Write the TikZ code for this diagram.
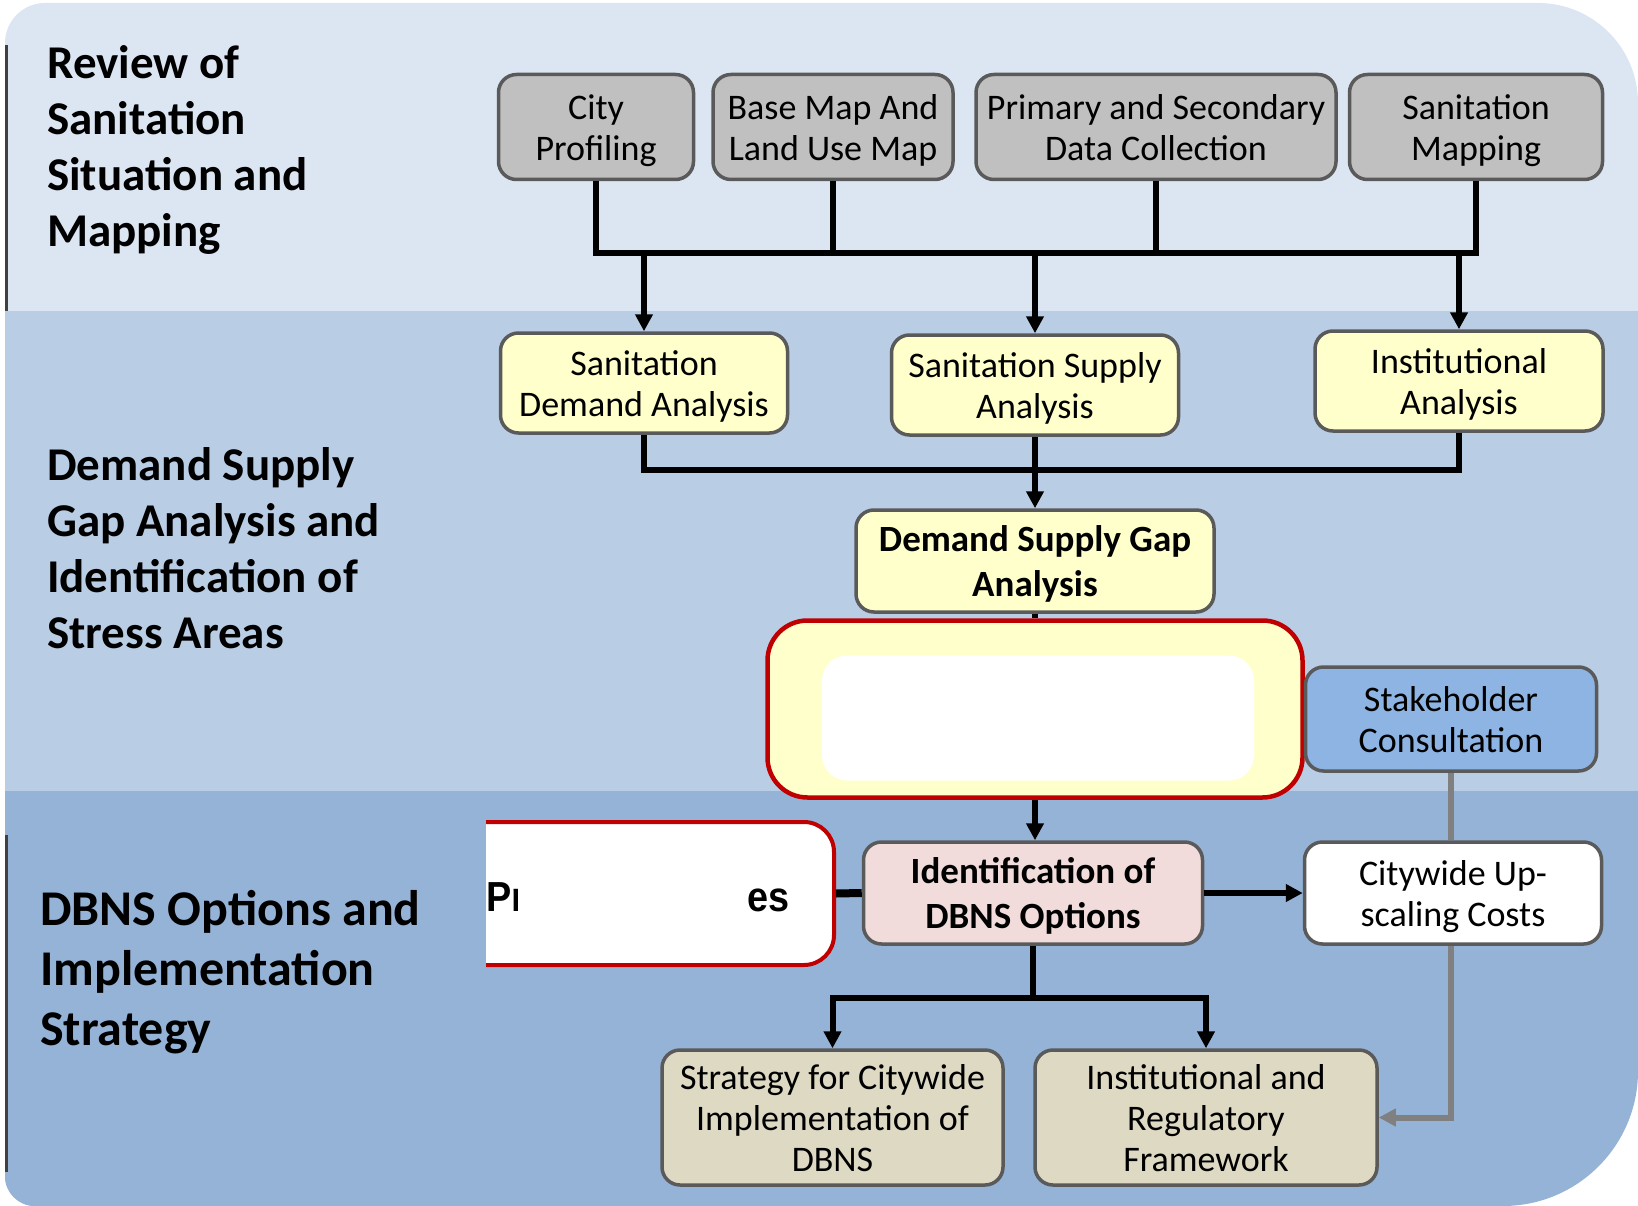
\documentclass[tikz,border=0pt]{standalone}
\usepackage{fontspec}
\setmainfont{Carlito}
\newfontfamily\arialf{Liberation Sans}
\usetikzlibrary{arrows.meta}
\newcommand{\bxtop}{\rule{0pt}{34pt}}
\definecolor{bandA}{HTML}{DCE6F2}
\definecolor{bandB}{HTML}{B9CDE5}
\definecolor{bandC}{HTML}{95B3D7}
\definecolor{grayfill}{HTML}{C0C0C0}
\definecolor{yelfill}{HTML}{FFFFCC}
\definecolor{boxedge}{HTML}{5A5A5A}
\definecolor{rededge}{HTML}{C00000}
\definecolor{stakefill}{HTML}{8DB4E2}
\definecolor{pinkfill}{HTML}{F2DCDB}
\definecolor{tanfill}{HTML}{DDD9C3}
\definecolor{grayline}{HTML}{808080}
\definecolor{darkedge}{HTML}{404040}
\begin{document}
\begin{tikzpicture}[x=1pt,y=-1pt,
  box/.style={draw=boxedge, line width=3.5pt, rounded corners=18pt, align=center,
    inner sep=0pt, font=\fontsize{36}{41}\selectfont, text depth=8pt},
  boldbox/.style={box, font=\bfseries\fontsize{37}{45}\selectfont},
  lab/.style={align=left, inner sep=0pt, anchor=west, font=\bfseries\fontsize{47}{56}\selectfont},
  conn/.style={line width=6pt, draw=black},
  arr/.style={conn, -{Triangle[length=17pt,width=17pt]}},
  gconn/.style={line width=6pt, draw=grayline},
  garr/.style={gconn, -{Triangle[length=17pt,width=17pt]}},
  prtext/.style={inner sep=0pt, anchor=base west, font=\arialf\bfseries\fontsize{42}{50}\selectfont}
]
\useasboundingbox (0,0) rectangle (1638,1206);
% background bands
\begin{scope}
  \clip (800,3) [rounded corners=100pt] -| (1638,600) [rounded corners=135pt] |- (800,1206)
        [rounded corners=30pt] -| (5,600) [rounded corners=40pt] |- (800,3);
  \fill[bandA] (0,0) rectangle (1638,311);
  \fill[bandB] (0,311) rectangle (1638,791);
  \fill[bandC] (0,791) rectangle (1638,1206);
  \node[draw=rededge, line width=4pt, fill=white, rounded corners=30pt,
        minimum width=394pt, minimum height=143pt, inner sep=0pt] (prbox) at (637,893.5) {};
  \fill[bandC] (0,791) rectangle (486,1206);
\end{scope}
\draw[line width=3pt, darkedge] (6,45) -- (6,311);
\draw[line width=3pt, darkedge] (6,835) -- (6,1172);
% left labels
\node[lab] (labA) at (47,150) {Review of\\Sanitation\\Situation and\\Mapping};
\node[lab] (labB) at (47,548) {Demand Supply\\Gap Analysis and\\Identification of\\Stress Areas};
\node[lab, font=\bfseries\fontsize{50}{60}\selectfont] (labC) at (40,972) {DBNS Options and\\Implementation\\Strategy};
% Pr ... es texts
\begin{scope}
  \clip (486,820) rectangle (517,965);
  \node[prtext] (prA) at (486,911) {\scalebox{0.9}[1]{Pr}};
\end{scope}
\node[prtext] (prB) at (747,911) {\scalebox{0.9}[1]{es}};
% top boxes
\node[box, fill=grayfill, minimum width=195pt, minimum height=105pt] (city) at (596,127) {\bxtop City\\Profiling};
\node[box, fill=grayfill, minimum width=240pt, minimum height=105pt] (bmap) at (833,127) {\bxtop Base Map And\\Land Use Map};
\node[box, fill=grayfill, minimum width=360pt, minimum height=105pt] (psd) at (1156,127) {\bxtop Primary and Secondary\\Data Collection};
\node[box, fill=grayfill, minimum width=253pt, minimum height=105pt] (smap) at (1476,127) {\bxtop Sanitation\\Mapping};
% yellow boxes
\node[box, fill=yelfill, minimum width=287pt, minimum height=100pt] (demand) at (644,383) {\bxtop Sanitation\\Demand Analysis};
\node[box, fill=yelfill, minimum width=287pt, minimum height=100pt] (supply) at (1035,385) {\bxtop Sanitation Supply\\Analysis};
\node[box, fill=yelfill, minimum width=288pt, minimum height=100pt] (inst) at (1459,381) {\bxtop Institutional\\Analysis};
\node[boldbox, fill=yelfill, minimum width=358pt, minimum height=102pt] (gap) at (1035,561) {\bxtop Demand Supply Gap\\Analysis};
% red box
\node[draw=rededge, line width=4.5pt, fill=yelfill, rounded corners=40pt,
      minimum width=535pt, minimum height=177pt, inner sep=0pt] (redbox) at (1035,709) {};
\node[fill=white, rounded corners=25pt, minimum width=432pt, minimum height=125pt, inner sep=0pt] (redinner) at (1038,718) {};
\node[box, fill=stakefill, minimum width=291pt, minimum height=104pt] (stake) at (1451,719) {\bxtop Stakeholder\\Consultation};
% bottom band
\node[boldbox, fill=pinkfill, minimum width=339pt, minimum height=102pt] (ident) at (1033,893) {\bxtop Identification of\\DBNS Options};
\node[box, fill=white, minimum width=297pt, minimum height=102pt] (cost) at (1453,893) {\bxtop Citywide Up-\\scaling Costs};
\node[box, fill=tanfill, minimum width=341pt, minimum height=135pt] (strat) at (832.5,1117.5) {\bxtop Strategy for Citywide\\Implementation of\\DBNS};
\node[box, fill=tanfill, minimum width=342pt, minimum height=135pt] (irf) at (1206,1117.5) {\bxtop Institutional and\\Regulatory\\Framework};
% connectors top
\coordinate (bus) at (0,253);
\coordinate (midbus) at (0,470);
\coordinate (lowbus) at (0,998);
\draw[conn] (city.south) |- (smap.south |- bus) -- (smap.south);
\draw[conn] (bmap.south) -- (bmap.south |- bus);
\draw[conn] (psd.south) -- (psd.south |- bus);
\draw[arr] (demand.north |- bus) -- (demand.north);
\draw[arr] (supply.north |- bus) -- (supply.north);
\draw[arr] (inst.north |- bus) -- (inst.north);
% middle
\draw[conn] (demand.south) |- (inst.south |- midbus) -- (inst.south);
\draw[arr] (supply.south) -- (gap.north);
\draw[conn] (gap.south) -- (redbox.north);
\draw[arr] (redbox.south) -- (redbox.south |- ident.north);
% bottom
\draw[line width=8pt] (prbox.east) -- (ident.west);
\draw[arr] (ident.east) -- (cost.west);
\draw[arr] (ident.south) |- (strat.north |- lowbus) -- (strat.north);
\draw[arr] (ident.south) |- (irf.north |- lowbus) -- (irf.north);
\draw[gconn] (stake.south) -- (stake.south |- cost.north);
\draw[garr] (cost.south -| stake.south) |- (irf.east);
\end{tikzpicture}
\end{document}
